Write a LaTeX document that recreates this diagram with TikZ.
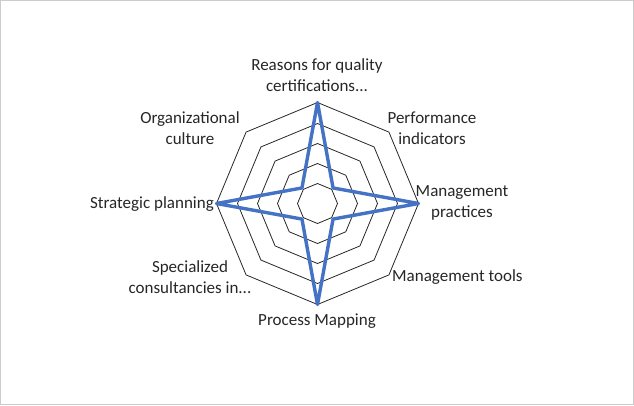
\documentclass[tikz,border=0pt]{standalone}
\usepackage{fontspec}
\setmainfont{Carlito}
\usetikzlibrary{calc}
\begin{document}
\begin{tikzpicture}[x=1pt,y=-1pt,
  lbl/.style={font=\fontsize{17}{21}\selectfont,text=black!85,align=center,inner sep=0pt},
  ring/.style={draw=black!85,line width=0.8pt}]
\useasboundingbox (0,0) rectangle (634,405);
\draw[draw=black!20] (0.5,0.5) rectangle (633.5,404.5);
\coordinate (c) at (317.5,203.5);
\foreach \r in {20,40,60,80,101}{
  \draw[ring] ($(c)+(90:\r)$) \foreach \a in {45,0,-45,-90,-135,180,135}{ -- ($(c)+(\a:\r)$)} -- cycle;
}
\draw[draw={rgb,255:red,68;green,114;blue,196},line width=3.4pt,line join=round]
  ($(c)+(0,-101)$) -- ($(c)+(-45:22)$) -- ($(c)+(101,0)$) -- ($(c)+(45:22)$) --
  ($(c)+(0,101)$) -- ($(c)+(135:22)$) -- ($(c)+(-101,0)$) -- ($(c)+(-135:22)$) -- cycle;
\node[lbl] (l1) at (317,75) {Reasons for quality\\certifications...};
\node[lbl] (l2) at (432,128) {Performance\\indicators};
\node[lbl] (l3) at (462,203) {Management\\practices};
\node[lbl,anchor=west] (l4) at (392,277) {Management tools};
\node[lbl] (l5) at (317,321) {Process Mapping};
\node[lbl] (l6) at (190,277) {Specialized\\consultancies in...};
\node[lbl,anchor=east] (l7) at (214,204) {Strategic planning};
\node[lbl] (l8) at (190,128) {Organizational\\culture};
\end{tikzpicture}
\end{document}
